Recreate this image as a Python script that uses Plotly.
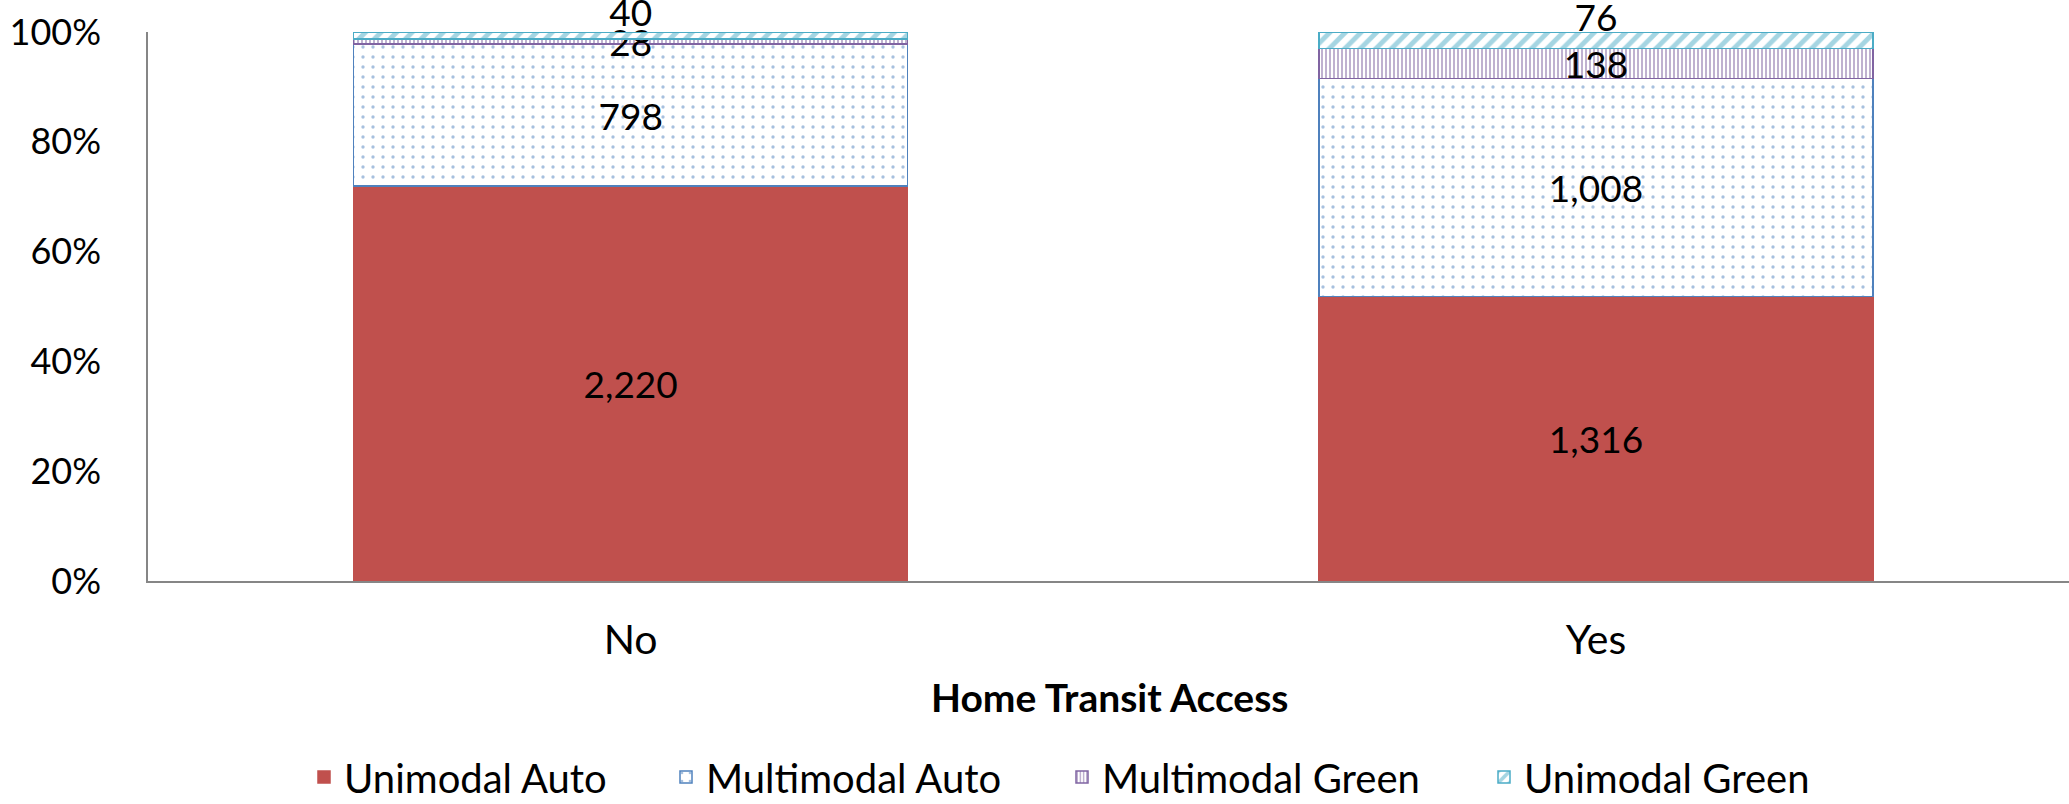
import plotly.graph_objects as go

categories = ["No", "Yes"]
series_names = ["Unimodal Auto", "Multimodal Auto", "Multimodal Green", "Unimodal Green"]
unimodal_auto = [2220, 1316]
multimodal_auto = [798, 1008]
multimodal_green = [28, 138]
unimodal_green = [40, 76]
y_ticks = [0, 20, 40, 60, 80, 100]

FONT = "Lato"
FS = 37

styles = [
    dict(color="#C0504D", line="#C0504D", pattern=None),
    dict(color="#FFFFFF", line="#4F81BD", pattern=dict(shape=".", fgcolor="#4F81BD", bgcolor="#FFFFFF", size=10, solidity=0.09, fillmode="overlay")),
    dict(color="#FFFFFF", line="#8064A2", pattern=dict(shape="|", fgcolor="#8064A2", bgcolor="#FFFFFF", size=4, solidity=0.5, fillmode="overlay")),
    dict(color="#FFFFFF", line="#4BACC6", pattern=dict(shape="/", fgcolor="#4BACC6", bgcolor="#FFFFFF", size=11, solidity=0.45, fillmode="overlay")),
]

data = [unimodal_auto, multimodal_auto, multimodal_green, unimodal_green]
legend_ids = ["legend", "legend2", "legend3", "legend4"]
legend_left_px = [318, 680, 1076, 1498]

fig = go.Figure()
for i, (name, vals, st) in enumerate(zip(series_names, data, styles)):
    marker = dict(color=st["color"], line=dict(color=st["line"], width=1.5))
    if st["pattern"]:
        marker["pattern"] = st["pattern"]
    if i == 3:
        labels = [f"{v:,}<br>\u00a0" for v in vals]
    else:
        labels = [f"{v:,}" for v in vals]
    fig.add_trace(go.Bar(
        name=name, x=categories, y=vals,
        text=labels,
        textposition="inside",
        insidetextanchor="middle",
        textangle=0,
        textfont=dict(family=FONT, size=FS, color="#000000"),
        constraintext="none",
        cliponaxis=False,
        marker=marker,
        width=0.574,
        legend=legend_ids[i],
    ))

PL, PW, PT, PH = 148, 2069 - 148, 32, 804 - 32 - 223

layout_legends = {}
for lid, px in zip(legend_ids, legend_left_px):
    layout_legends[lid] = dict(
        orientation="h", x=(px - 14 - PL) / PW, xanchor="left",
        y=-(777 - (PT + PH)) / PH, yanchor="middle",
        font=dict(family=FONT, size=40), bgcolor="rgba(0,0,0,0)",
    )

fig.update_layout(
    barmode="stack", barnorm="percent",
    width=2069, height=804,
    margin=dict(l=PL, r=0, t=PT, b=223, autoexpand=False),
    paper_bgcolor="white", plot_bgcolor="white",
    font=dict(family=FONT, size=FS, color="#000000"),
    uniformtext=dict(mode="show", minsize=FS),
    showlegend=True,
    xaxis=dict(range=[-0.5, 1.49], showline=True, linecolor="#868686", linewidth=1.5,
               ticks="", showgrid=False, ticklabelstandoff=22,
               tickfont=dict(family=FONT, size=41)),
    yaxis=dict(range=[0, 100], tickvals=y_ticks, ticktext=[f"{t}%" for t in y_ticks],
               showline=True, linecolor="#868686", linewidth=1.5, ticks="", showgrid=False,
               zeroline=False, ticklabelstandoff=38, tickfont=dict(family=FONT, size=36)),
    annotations=[dict(text="<b>Home Transit Access</b>", xref="paper", yref="paper",
                      x=(1109 - PL) / PW, y=-(697 - (PT + PH)) / PH, xanchor="center", yanchor="middle",
                      showarrow=False, font=dict(family=FONT, size=39))],
    **layout_legends,
)

fig.write_html("out.html")
